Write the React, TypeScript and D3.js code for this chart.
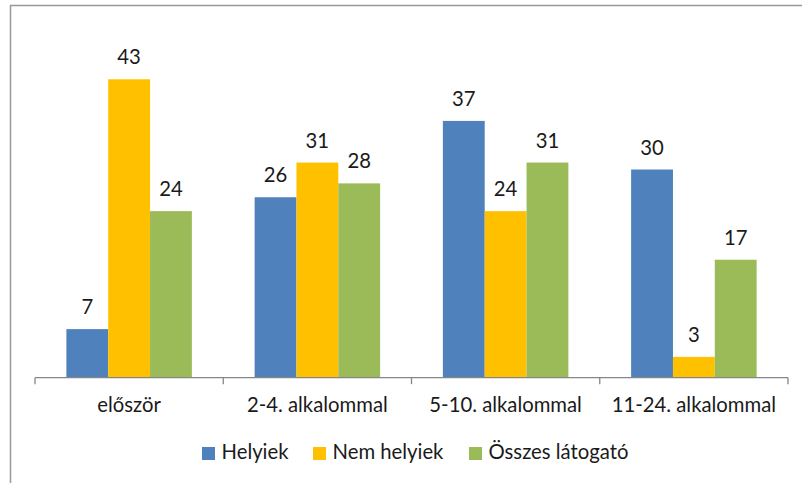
import React from "react";
import * as d3 from "d3";

const categories = ["először", "2-4. alkalommal", "5-10. alkalommal", "11-24. alkalommal"];
const seriesNames = ["Helyiek", "Nem helyiek", "Összes látogató"];
const helyiek = [7, 26, 37, 30];
const nemHelyiek = [43, 31, 24, 3];
const osszes = [24, 28, 31, 17];
const colors = ["#4F81BD", "#FFC000", "#9BBB59"];

const W = 802;
const H = 483;
const FONT = "Lato, 'Open Sans', sans-serif";
const FS = 20.3;

export default function App() {
  const series = [helyiek, nemHelyiek, osszes];
  const x0 = d3.scaleBand<string>().domain(categories).range([35, 788]).paddingInner(0).paddingOuter(0);
  const bw = x0.bandwidth();
  const barW = bw / (3 + 1.5);
  const x1 = d3.scaleBand<string>().domain(seriesNames).range([0, barW * 3]);
  const y = d3.scaleLinear().domain([0, 50]).range([377.7, 30.7]);
  const baseY = y(0);
  const ticks = [...categories.map((c) => x0(c)!), 788];

  const legendItems = [
    { name: seriesNames[0], x: 202 },
    { name: seriesNames[1], x: 313 },
    { name: seriesNames[2], x: 469 },
  ];

  return (
    <svg width={W} height={H} style={{ position: "absolute", left: 0, top: 0, display: "block" }}>
      <rect x={0} y={0} width={W} height={H} fill="#fff" />
      <rect x={10.5} y={5.5} width={W + 20} height={H + 20} fill="none" stroke="#999" strokeWidth={1.5} />
      {categories.map((c, i) => {
        const gx = x0(c)! + (bw - barW * 3) / 2;
        return (
          <g key={c}>
            {series.map((s, j) => {
              const v = s[i];
              const bx = gx + x1(seriesNames[j])!;
              return (
                <g key={j}>
                  <rect x={bx} y={y(v)} width={x1.bandwidth()} height={baseY - y(v)} fill={colors[j]} />
                  <text
                    x={bx + x1.bandwidth() / 2}
                    y={y(v) - 15}
                    textAnchor="middle"
                    fontFamily={FONT}
                    fontSize={FS}
                    fill="#1a1a1a"
                  >
                    {v}
                  </text>
                </g>
              );
            })}
            <text
              x={x0(c)! + bw / 2}
              y={411.7}
              textAnchor="middle"
              fontFamily={FONT}
              fontSize={FS}
              fill="#1a1a1a"
            >
              {c}
            </text>
          </g>
        );
      })}
      <line x1={35} x2={788} y1={baseY} y2={baseY} stroke="#868686" strokeWidth={1.3} />
      {ticks.map((t, i) => (
        <line key={i} x1={t} x2={t} y1={baseY} y2={baseY + 6.5} stroke="#868686" strokeWidth={1.3} />
      ))}
      {legendItems.map((l, i) => (
        <g key={l.name}>
          <rect x={l.x} y={447} width={13} height={13} fill={colors[i]} />
          <text x={l.x + 19.5} y={459.3} fontFamily={FONT} fontSize={FS} fill="#1a1a1a">
            {l.name}
          </text>
        </g>
      ))}
    </svg>
  );
}
